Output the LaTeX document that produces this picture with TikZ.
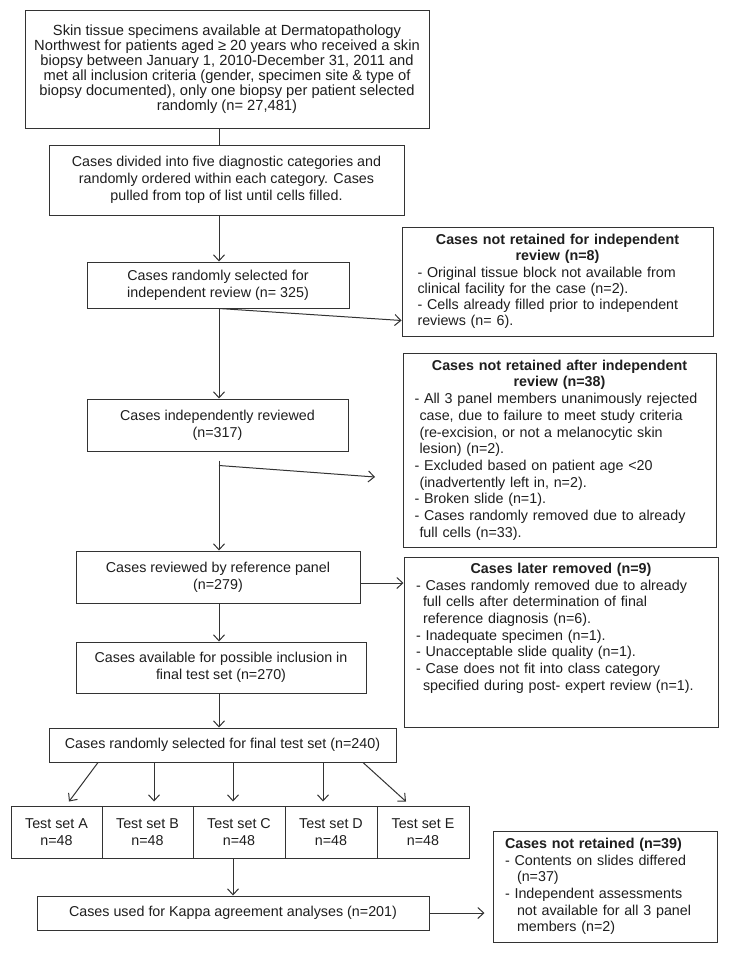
\documentclass[tikz,border=0pt]{standalone}
\usepackage{fontspec}
\setmainfont{Liberation Sans}
\usetikzlibrary{arrows.meta}
\definecolor{lc}{HTML}{333333}
\definecolor{tc}{HTML}{1E1E1E}
\begin{document}
\begin{tikzpicture}[x=1pt,y=-1pt,
  box/.style={draw=lc, line width=1pt, inner sep=0pt, align=center, text=tc,
    font=\fontsize{14.3}{16.7}\selectfont},
  rbox/.style={draw=lc, line width=1pt, inner sep=0pt, text=tc, align=left,
    font=\fontsize{14.3}{16.7}\selectfont},
  arr/.style={draw=lc, line width=1pt, -{Straight Barb[length=6pt,width=11pt]}},
  ln/.style={draw=lc, line width=1pt}]
\fill[white] (0,0) rectangle (729,953);
\useasboundingbox (0,0) rectangle (729,953);

% main column
\node[box, minimum width=404pt, minimum height=118pt, font=\fontsize{14.7}{15}\selectfont] (b1) at (227,69)
 {Skin tissue specimens available at Dermatopathology\\
  Northwest for patients aged ≥ 20 years who received a skin\\
  biopsy between January 1, 2010-December 31, 2011 and\\
  met all inclusion criteria (gender, specimen site \& type of\\
  biopsy documented), only one biopsy per patient selected\\
  randomly (n= 27,481)};
\node[box, minimum width=355pt, minimum height=70pt] (b2) at (226.5,180)
 {Cases divided into five diagnostic categories and\\
  randomly ordered within each category. Cases\\
  pulled from top of list until cells filled.};
\node[box, minimum width=262pt, minimum height=46pt] (b3) at (218,285)
 {Cases randomly selected for\\ independent review (n= 325)};
\node[box, minimum width=261pt, minimum height=52pt] (b4) at (217.5,425)
 {Cases independently reviewed\\ (n=317)};
\node[box, minimum width=284pt, minimum height=52pt] (b5) at (218,577)
 {Cases reviewed by reference panel\\ (n=279)};
\node[box, minimum width=290pt, minimum height=51pt] (b6) at (221,667.5)
 {Cases available for possible inclusion in\\ final test set (n=270)};
\node[box, minimum width=347pt, minimum height=34pt] (b7) at (222.5,745)
 {Cases randomly selected for final test set (n=240)};

\node[box, minimum width=91pt, minimum height=52pt] (tA) at (56.5,832) {Test set A\\ n=48};
\node[box, minimum width=91pt, minimum height=52pt] (tB) at (147.5,832) {Test set B\\ n=48};
\node[box, minimum width=92pt, minimum height=52pt] (tC) at (239,832) {Test set C\\ n=48};
\node[box, minimum width=92pt, minimum height=52pt] (tD) at (331,832) {Test set D\\ n=48};
\node[box, minimum width=92pt, minimum height=52pt] (tE) at (423,832) {Test set E\\ n=48};

\node[box, minimum width=392pt, minimum height=34pt] (kap) at (233,913)
 {Cases used for Kappa agreement analyses (n=201)};

% right column
\node[rbox, minimum width=311pt, minimum height=109pt, text width=280pt,
  font=\fontsize{14.3}{16.2}\selectfont] (r1) at (557.5,281.5)
 {{\centering\bfseries Cases not retained for independent\\ review (n=8)\par}
  - Original tissue block not available from\\
  clinical facility for the case (n=2).\\
  - Cells already filled prior to independent\\
  reviews (n= 6).};
\node[rbox, minimum width=313pt, minimum height=194pt, text width=290pt] (r2) at (559.5,450)
 {{\centering\bfseries Cases not retained after independent\\ review (n=38)\par}
  - All 3 panel members unanimously rejected\\
  \hspace*{5pt}case, due to failure to meet study criteria\\
  \hspace*{5pt}(re-excision, or not a melanocytic skin\\
  \hspace*{5pt}lesion) (n=2).\\
  - Excluded based on patient age <20\\
  \hspace*{5pt}(inadvertently left in, n=2).\\
  - Broken slide (n=1).\\
  - Cases randomly removed due to already\\
  \hspace*{5pt}full cells (n=33).};
\node[rbox, minimum width=314pt, minimum height=170pt] (r3) at (561,642) {};
\node[rbox, draw=none, text width=290pt, anchor=north] (r3t) at ([yshift=-6pt]r3.north)
 {{\centering\bfseries Cases later removed (n=9)\par}
  - Cases randomly removed due to already\\
  \hspace*{7pt}full cells after determination of final\\
  \hspace*{7pt}reference diagnosis (n=6).\\
  - Inadequate specimen (n=1).\\
  - Unacceptable slide quality (n=1).\\
  - Case does not fit into class category\\
  \hspace*{7pt}specified during post- expert review (n=1).};
\node[rbox, minimum width=224pt, minimum height=111pt, text width=200pt] (r4) at (605,886.5)
 {\textbf{Cases not retained (n=39)}\\
  - Contents on slides differed\\
  \hspace*{12pt}(n=37)\\
  - Independent assessments\\
  \hspace*{12pt}not available for all 3 panel\\
  \hspace*{12pt}members (n=2)};

% connectors
\coordinate (sp) at (219,0);
\draw[ln] (b1.south -| sp) -- (b2.north -| sp);
\draw[arr] (b2.south -| sp) -- (b3.north -| sp);
\draw[arr] (b3.south -| sp) -- (b4.north -| sp);
\draw[arr] (b3.south -| sp) -- ([yshift=16pt]r1.south west);
\coordinate (s4a) at ([yshift=-9pt]b4.south -| sp);
\coordinate (s4b) at ([yshift=-14pt]b4.south -| sp);
\coordinate (e2) at (375,477);
\draw[arr] (s4a) -- (b5.north -| sp);
\draw[arr] (s4b) -- (e2);
\coordinate (p5) at ([yshift=-6pt]b5.east);
\draw[arr] (p5) -- (p5 -| r3.west);
\draw[arr] (b5.south -| sp) -- (b6.north -| sp);
\draw[arr] (b6.south -| sp) -- (b7.north -| sp);

\draw[arr] ([xshift=-124.5pt]b7.south) -- ([xshift=12.5pt,yshift=4pt]tA.north);
\draw[arr] ([xshift=-68.5pt]b7.south) -- ([xshift=6.5pt,yshift=4pt]tB.north);
\draw[arr] ([xshift=10.5pt]b7.south) -- ([xshift=-6pt,yshift=4pt]tC.north);
\draw[arr] ([xshift=100.5pt]b7.south) -- ([xshift=-8pt,yshift=4pt]tD.north);
\draw[arr] ([xshift=140.5pt]b7.south) -- ([xshift=-17pt,yshift=4pt]tE.north);

\draw[arr] (tC.south -| kap.north) -- (kap.north);
\coordinate (pk) at ([xshift=-8pt]kap.east -| r4.west);
\draw[arr] (kap.east) -- (pk);
\end{tikzpicture}
\end{document}
